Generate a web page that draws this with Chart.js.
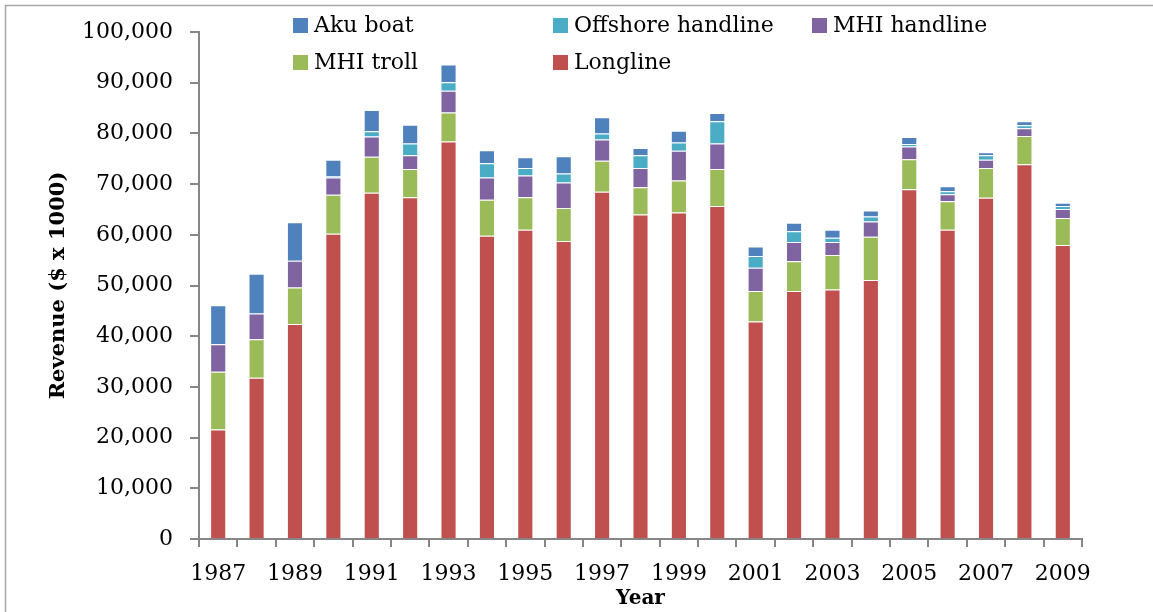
<!DOCTYPE html>
<html>
<head>
<meta charset="utf-8">
<script src="https://cdn.jsdelivr.net/npm/chart.js@4.4.1/dist/chart.umd.min.js"></script>
<style>
  body { margin: 0; background: #fff; }
  #wrap { position: relative; width: 1153px; height: 612px; }
  #legend { position: absolute; left: 0; top: 0; font: 22px 'DejaVu Serif'; color: #000; }
  .lg { position: absolute; height: 28px; line-height: 28px; display: flex; align-items: center; white-space: nowrap; }
  .lg i { display: inline-block; width: 15px; height: 15px; margin-right: 6px; }
</style>
</head>
<body>
<div id="wrap">
  <canvas id="chart" width="1153" height="612"></canvas>
  <div id="legend"></div>
</div>
<script>
// Hawaii pelagic fishery revenue by gear, $ x 1000
const years = ['1987','1988','1989','1990','1991','1992','1993','1994','1995','1996','1997','1998',
               '1999','2000','2001','2002','2003','2004','2005','2006','2007','2008','2009'];

const longline    = [21600,31800,42400,60200,68300,67400,78400,59800,61000,58800,68500,64000,
                     64400,65700,42900,48900,49200,51100,69000,61000,67300,73900,58000];
const mhiTroll    = [11400,7600,7200,7700,7100,5600,5700,7100,6400,6500,6100,5400,
                     6300,7300,6000,5900,6800,8500,5900,5600,5900,5600,5300];
const mhiHandline = [5400,5100,5300,3400,4000,2700,4300,4400,4300,5000,4200,3800,
                     5900,5000,4600,3800,2600,3000,2500,1400,1600,1500,1800];
const offshoreHandline = [0,0,0,300,1000,2300,1700,2800,1500,1800,1200,2500,
                          1600,4400,2300,2100,800,1000,500,600,900,600,600];
const akuBoat     = [7700,7800,7600,3200,4200,3700,3500,2600,2100,3400,3200,1400,
                     2300,1600,1900,1700,1600,1200,1400,1000,600,800,600];

const yTicks = [0,10000,20000,30000,40000,50000,60000,70000,80000,90000,100000];

// stack order bottom -> top
const series = [
  {label: 'Longline', data: longline, color: '#C0504D'},
  {label: 'MHI troll', data: mhiTroll, color: '#9BBB59'},
  {label: 'MHI handline', data: mhiHandline, color: '#8064A2'},
  {label: 'Offshore handline', data: offshoreHandline, color: '#4BACC6'},
  {label: 'Aku boat', data: akuBoat, color: '#4F81BD'}
];

// legend grid as in the original (top row first)
const legendSlots = [
  {label: 'Aku boat', x: 293, y: 11},
  {label: 'Offshore handline', x: 553, y: 11},
  {label: 'MHI handline', x: 812, y: 11},
  {label: 'MHI troll', x: 293, y: 48},
  {label: 'Longline', x: 553, y: 48}
];
document.getElementById('legend').innerHTML = legendSlots.map(s => {
  const c = series.find(d => d.label === s.label).color;
  return `<div class="lg" style="left:${s.x}px;top:${s.y}px"><i style="background:${c}"></i>${s.label}</div>`;
}).join('');

const frame = {
  id: 'frame',
  beforeDraw(chart) {
    const ctx = chart.ctx;
    ctx.save();
    ctx.strokeStyle = '#a6a6a6';
    ctx.lineWidth = 1.5;
    ctx.beginPath();
    ctx.moveTo(5.5, 612); ctx.lineTo(5.5, 5.5); ctx.lineTo(1153, 5.5);
    ctx.stroke();
    ctx.restore();
  }
};

const axisGray = '#868686';
const serif = 'DejaVu Serif';

new Chart(document.getElementById('chart').getContext('2d'), {
  type: 'bar',
  data: {
    labels: years,
    datasets: series.map(s => ({
      label: s.label, data: s.data,
      backgroundColor: s.color,
      borderColor: 'rgba(255,255,255,0.55)', borderWidth: 1,
      categoryPercentage: 1, barPercentage: 0.42
    }))
  },
  plugins: [frame],
  options: {
    responsive: false, animation: false,
    layout: {padding: {top: 32, right: 71, left: 0, bottom: 0}},
    plugins: {legend: {display: false}, tooltip: {enabled: false}},
    scales: {
      x: {
        stacked: true, offset: true,
        grid: {offset: true, drawOnChartArea: false, drawTicks: true, tickLength: 8, color: axisGray, lineWidth: 2},
        border: {color: axisGray, width: 2},
        ticks: {autoSkip: false, maxRotation: 0, color: '#000', padding: 14,
                font: {family: serif, size: 22},
                callback: (v, i) => i % 2 === 0 ? years[i] : ''},
        title: {display: true, text: 'Year', color: '#000', padding: {top: 0, bottom: 1},
                font: {family: serif, size: 20, weight: 'bold'}},
        afterFit: s => { s.height = 73; }
      },
      y: {
        stacked: true, min: 0, max: 100000,
        afterBuildTicks: s => { s.ticks = yTicks.map(v => ({value: v})); },
        grid: {drawOnChartArea: false, drawTicks: true, tickLength: 9, color: axisGray, lineWidth: 2},
        border: {color: axisGray, width: 2},
        ticks: {color: '#000', padding: 17, font: {family: serif, size: 22},
                callback: v => v.toLocaleString('en-US')},
        title: {display: true, text: 'Revenue ($ x 1000)', color: '#000', padding: {top: 46, bottom: 0},
                font: {family: serif, size: 21, weight: 'bold'}},
        afterFit: s => { s.width = 199; }
      }
    }
  }
});
</script>
</body>
</html>
